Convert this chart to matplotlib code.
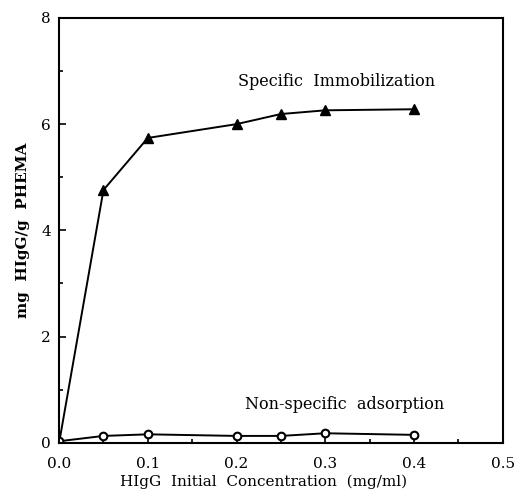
import numpy as np
import matplotlib
matplotlib.use("Agg")
import matplotlib.pyplot as plt
from matplotlib.ticker import MultipleLocator

conc = [0.0, 0.05, 0.1, 0.2, 0.25, 0.3, 0.4]
specific = [0.0, 4.76, 5.74, 6.0, 6.19, 6.26, 6.28]
nonspecific = [0.03, 0.13, 0.16, 0.13, 0.13, 0.18, 0.15]

plt.rcParams['font.family'] = ['DejaVu Serif']

fig = plt.figure(figsize=(5.14, 4.97), dpi=100)
ax = fig.add_axes([0.115, 0.109, 0.863, 0.855])

ax.plot(conc, specific, color="black", lw=1.4, marker="^", ms=6.5)
ax.plot(conc, nonspecific, color="black", lw=1.4, marker="o", ms=5.5,
        mfc="white", mew=1.5)

ax.text(0.202, 6.8, "Specific  Immobilization", fontsize=11.5, va="center")
ax.text(0.209, 0.73, "Non-specific  adsorption", fontsize=11.5, va="center")

ax.set_xlim(0, 0.5)
ax.set_ylim(0, 8)
ax.xaxis.set_major_locator(MultipleLocator(0.1))
ax.xaxis.set_minor_locator(MultipleLocator(0.05))
ax.yaxis.set_major_locator(MultipleLocator(2))
ax.yaxis.set_minor_locator(MultipleLocator(1))
ax.tick_params(which="both", direction="in", top=False, right=False,
               labelsize=11, width=1.2)
ax.tick_params(which="major", length=5)
ax.tick_params(which="minor", length=3)
ax.tick_params(axis="x", pad=10)
ax.tick_params(axis="y", pad=6)
ax.set_xticklabels(["%.1f" % v for v in ax.get_xticks()])
for s in ax.spines.values():
    s.set_linewidth(1.5)

ax.set_xlabel("HIgG  Initial  Concentration  (mg/ml)", fontsize=11)
ax.xaxis.set_label_coords(0.46, -0.075)
ax.set_ylabel("mg  HIgG/g  PHEMA", fontsize=11, fontweight="bold", labelpad=8)

fig.savefig("out.png", dpi=100)
